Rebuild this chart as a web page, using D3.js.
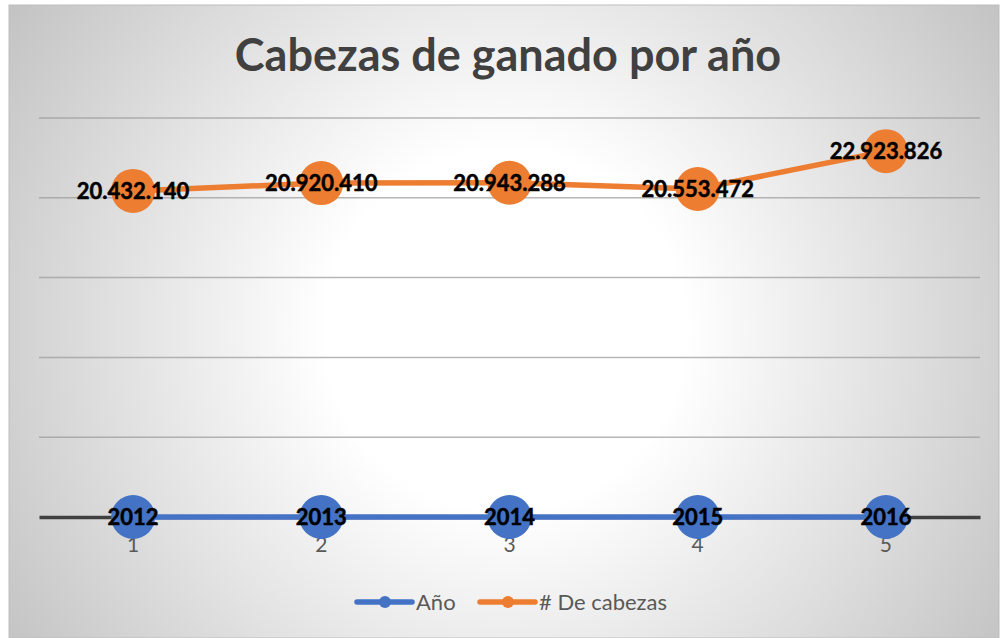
<!DOCTYPE html>
<html>
<head>
<meta charset="utf-8">
<script src="https://cdn.jsdelivr.net/npm/d3@7"></script>
<style>
  body { margin: 0; background: #fff; }
  svg { display: block; font-family: Lato, "Open Sans", sans-serif; }
</style>
</head>
<body>
<div class="chart"></div>
<script>
const width = 1000;
const height = 638;

// data
const categories = [1, 2, 3, 4, 5];
const years = [2012, 2013, 2014, 2015, 2016];
const cabezas = [20432140, 20920410, 20943288, 20553472, 22923826];
const yTicks = [0, 5000000, 10000000, 15000000, 20000000, 25000000];
const seriesNames = ['Año', '# De cabezas'];
const seriesColors = ['#4472c4', '#ed7d31'];

const margin = { top: 118, right: 20, bottom: 121, left: 39 };

const es = d3.formatLocale({ decimal: ',', thousands: '.', grouping: [3], currency: ['', ''] });
const fmt = es.format(',d');

const svg = d3
  .select('.chart')
  .append('svg')
  .attr('width', width)
  .attr('height', height);

// background with radial gradient
const grad = svg
  .append('defs')
  .append('radialGradient')
  .attr('id', 'bg')
  .attr('gradientUnits', 'userSpaceOnUse')
  .attr('cx', 505)
  .attr('cy', 330)
  .attr('r', 600);
grad.append('stop').attr('offset', 0).attr('stop-color', '#ffffff');
grad.append('stop').attr('offset', 0.3).attr('stop-color', '#ffffff');
grad.append('stop').attr('offset', 1).attr('stop-color', '#c2c2c2');

svg
  .append('rect')
  .attr('x', 9)
  .attr('y', 5)
  .attr('width', width - 10)
  .attr('height', height - 5)
  .attr('fill', 'url(#bg)')
  .attr('stroke', '#bdbdbd')
  .attr('stroke-width', 1);

svg
  .append('text')
  .attr('x', 508)
  .attr('y', 71)
  .attr('text-anchor', 'middle')
  .attr('font-size', 45)
  .attr('font-weight', 'bold')
  .attr('fill', '#404040')
  .text('Cabezas de ganado por año');

const x = d3
  .scaleBand()
  .domain(categories)
  .range([margin.left, width - margin.right]);

const y = d3
  .scaleLinear()
  .domain([0, 25000000])
  .range([height - margin.bottom, margin.top]);

const cx = (d) => x(d) + x.bandwidth() / 2;

// gridlines
svg
  .append('g')
  .selectAll('line')
  .data(yTicks.slice(1))
  .join('line')
  .attr('x1', margin.left)
  .attr('x2', width - margin.right)
  .attr('y1', (d) => y(d))
  .attr('y2', (d) => y(d))
  .attr('stroke', '#999999')
  .attr('stroke-opacity', 0.7)
  .attr('stroke-width', 1.5);

// x axis
const xAxis = svg
  .append('g')
  .attr('transform', `translate(0,${y(0)})`)
  .call(d3.axisBottom(x).tickSize(0).tickPadding(20));
xAxis.select('.domain').attr('stroke', '#404040').attr('stroke-width', 3.5);
xAxis
  .selectAll('text')
  .attr('font-size', 21)
  .attr('font-family', 'Lato, sans-serif')
  .attr('fill', '#595959');

const series = [
  { name: seriesNames[0], color: seriesColors[0], values: years },
  { name: seriesNames[1], color: seriesColors[1], values: cabezas }
];

const line = d3
  .line()
  .x((d, i) => cx(categories[i]))
  .y((d) => y(d));

series.forEach((s) => {
  const g = svg.append('g');
  g.append('path')
    .datum(s.values)
    .attr('d', line)
    .attr('fill', 'none')
    .attr('stroke', s.color)
    .attr('stroke-width', 5.5)
    .attr('stroke-linejoin', 'round');

  g.selectAll('circle')
    .data(s.values)
    .join('circle')
    .attr('cx', (d, i) => cx(categories[i]))
    .attr('cy', (d) => y(d))
    .attr('r', 22)
    .attr('fill', s.color);

  g.selectAll('text')
    .data(s.values)
    .join('text')
    .attr('x', (d, i) => cx(categories[i]))
    .attr('y', (d) => y(d))
    .attr('dy', '0.36em')
    .attr('text-anchor', 'middle')
    .attr('font-size', 22)
    .attr('font-weight', 'bold')
    .attr('fill', '#000')
    .attr('stroke', '#000')
    .attr('stroke-width', 0.5)
    .text((d) => (s.values === years ? d : fmt(d)));
});

// legend
const legend = svg.append('g').attr('transform', 'translate(357,602)');
const items = legend
  .selectAll('g')
  .data(series)
  .join('g')
  .attr('transform', (d, i) => `translate(${i === 0 ? 0 : 123},0)`);
items
  .append('line')
  .attr('x1', 0)
  .attr('x2', 55)
  .attr('stroke', (d) => d.color)
  .attr('stroke-width', 5.5)
  .attr('stroke-linecap', 'round');
items
  .append('circle')
  .attr('cx', 28)
  .attr('r', 6)
  .attr('fill', (d) => d.color);
items
  .append('text')
  .attr('x', 59)
  .attr('dy', '0.35em')
  .attr('font-size', 22)
  .attr('fill', '#595959')
  .text((d) => d.name);
</script>
</body>
</html>
